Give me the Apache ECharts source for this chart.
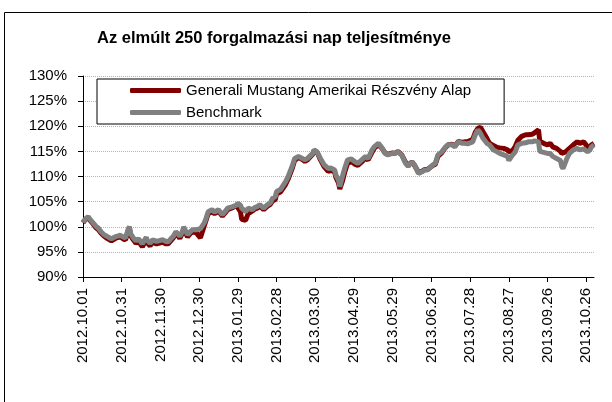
<!DOCTYPE html>
<html>
<head>
<meta charset="utf-8">
<script src="https://cdn.jsdelivr.net/npm/echarts@6/dist/echarts.min.js"></script>
<style>
  html, body { margin: 0; padding: 0; background: #fff; }
  #chart { width: 612px; height: 402px; }
</style>
</head>
<body>
<div id="chart"></div>
<script>
var titleText = 'Az elmúlt 250 forgalmazási nap teljesítménye';
var seriesNames = ['Generali Mustang Amerikai Részvény Alap', 'Benchmark'];

// tick labels, one every 30 calendar days from 2012.10.01
var tickLabels = ['2012.10.01', '2012.10.31', '2012.11.30', '2012.12.30', '2013.01.29', '2013.02.28',
  '2013.03.30', '2013.04.29', '2013.05.29', '2013.06.28', '2013.07.28', '2013.08.27',
  '2013.09.26', '2013.10.26'];
var tickStep = 30;
var lastDay = 396;

// days since 2012.10.01
var days = [0,2,4,5,8,10,12,14,16,18,19,22,23,26,27,29,31,33,34,35,36,37,39,41,43,44,46,49,50,52,
  54,57,58,60,62,64,66,68,70,72,74,75,77,78,81,83,85,88,89,91,92,94,95,97,100,102,105,108,110,112,
  116,119,120,122,123,126,128,131,133,135,137,140,143,145,147,149,150,153,154,157,159,162,164,167,170,172,174,178,179,181,
  182,184,187,190,192,195,196,198,199,201,203,205,208,211,213,216,219,221,224,226,229,232,234,236,240,242,244,247,250,252,
  255,257,260,263,265,267,271,273,275,278,281,283,286,288,291,294,296,298,302,304,306,308,310,313,315,318,321,323,326,329,
  330,333,335,337,340,343,345,348,350,353,354,357,360,362,364,367,370,371,372,374,375,377,380,383,385,388,389,391,393,394,396];

var fund = [100.8,101.5,101.9,101.4,100.5,99.8,99.4,98.7,98.2,97.8,97.5,97.2,97.0,97.8,97.9,98.0,97.6,97.4,97.7,99.2,
  99.6,98.2,97.4,96.7,97.1,97.4,96.0,97.5,96.7,96.2,96.9,96.6,96.5,96.8,96.9,96.6,96.6,97.2,97.8,98.6,
  98.1,97.7,98.7,99.6,98.0,98.6,99.0,98.8,98.4,97.8,98.0,100.2,101.0,102.6,103.0,102.6,103.1,102.1,102.7,103.4,
  103.8,104.2,104.5,103.0,101.5,101.3,102.6,103.1,103.5,103.7,104.1,103.4,104.1,104.4,105.2,105.4,106.5,106.9,107.0,108.4,
  109.5,111.5,113.2,113.8,113.4,113.0,113.3,114.4,115.1,114.9,114.5,113.3,111.9,111.0,111.2,110.9,109.8,108.7,107.5,109.0,
  111.0,112.6,113.0,112.4,112.2,112.9,113.7,113.3,114.8,115.7,116.3,115.5,114.7,114.4,114.7,114.6,115.0,114.3,112.8,112.2,
  112.9,112.2,110.8,111.1,111.4,111.4,112.2,112.4,114.0,114.7,115.8,116.3,116.4,116.0,117.0,116.8,116.9,116.9,117.4,118.8,
  119.6,119.8,118.9,117.6,116.6,116.2,115.8,115.7,115.6,115.3,114.9,115.2,116.0,117.2,118.0,118.3,118.3,118.4,118.7,119.3,
  117.0,116.6,116.3,116.6,115.9,115.6,115.0,114.6,114.6,114.9,115.2,115.6,116.3,116.9,116.6,116.9,116.6,115.9,115.9,116.3,116.6];

var bench = [100.9,101.6,102.0,101.6,100.7,100.1,99.7,99.0,98.5,98.2,97.9,97.6,97.4,98.1,98.2,98.3,98.0,97.8,98.1,99.5,
  100.0,98.6,97.8,97.2,97.6,97.8,96.6,97.9,97.2,96.7,97.4,97.1,97.0,97.3,97.4,97.1,97.0,97.6,98.1,99.0,
  98.5,98.1,99.0,100.0,98.4,99.0,99.4,99.4,99.4,99.6,99.7,100.8,101.4,103.0,103.4,102.9,103.4,102.4,103.0,103.7,
  104.0,104.3,104.7,104.3,103.7,103.0,103.7,103.4,103.8,104.0,104.4,103.7,104.4,104.7,105.7,106.0,107.0,107.4,107.4,109.0,
  110.0,112.0,113.6,114.0,113.6,113.3,113.6,114.6,115.3,115.0,114.6,113.6,112.3,111.6,111.7,111.3,110.3,109.3,108.0,110.0,
  111.8,113.3,113.5,112.9,112.6,113.3,114.0,113.6,115.3,116.0,116.6,115.6,114.6,114.3,114.6,114.6,114.9,114.3,112.6,112.0,
  112.9,112.3,110.6,111.0,111.3,111.3,112.3,112.6,114.3,114.9,115.9,116.3,116.3,115.9,116.9,116.6,116.6,116.5,116.9,118.3,
  119.3,118.6,117.6,116.6,116.3,115.3,114.9,114.6,114.3,114.0,113.2,114.3,114.9,116.3,116.6,116.7,116.9,116.9,117.1,116.9,
  115.0,114.8,114.6,114.6,114.0,113.6,113.2,112.0,111.6,112.9,113.6,114.6,115.3,115.6,115.3,115.5,115.6,114.9,115.3,115.9,116.3];

var yTicks = [90, 95, 100, 105, 110, 115, 120, 125, 130];

var font = 'Liberation Sans, Arial, Helvetica, sans-serif';
var tickDays = tickLabels.map(function (d, i) { return i * tickStep; });
function pairs(vals) { return days.map(function (d, i) { return [d, vals[i]]; }); }

var myChart = echarts.init(document.getElementById('chart'), null, { renderer: 'canvas' });
var option = {
  animation: false,
  backgroundColor: '#ffffff',
  title: {
    text: titleText,
    left: 97,
    top: 30,
    padding: 0,
    textStyle: { fontFamily: font, fontSize: 16.5, fontWeight: 'bold', color: '#000' }
  },
  graphic: [{
    type: 'rect',
    shape: { x: 4.5, y: 12.5, width: 700, height: 500 },
    style: { fill: null, stroke: '#000', lineWidth: 1 },
    silent: true,
    z: -1
  }],
  legend: {
    orient: 'vertical',
    left: 97,
    top: 79,
    padding: [4, 33, 4, 33],
    itemGap: 7,
    itemWidth: 51,
    itemHeight: 5,
    borderColor: '#000',
    borderWidth: 1,
    backgroundColor: '#fff',
    textStyle: { fontFamily: font, fontSize: 15, color: '#000' },
    data: [
      { name: seriesNames[0], icon: 'roundRect' },
      { name: seriesNames[1], icon: 'roundRect' }
    ]
  },
  grid: { left: 83, right: 18, top: 76, bottom: 125 },
  xAxis: {
    type: 'value',
    min: 0,
    max: lastDay,
    interval: tickStep,
    axisLine: { show: true, lineStyle: { color: '#000', width: 1 } },
    axisTick: { show: true, length: 5, customValues: tickDays, lineStyle: { color: '#000' } },
    splitLine: { show: false },
    axisLabel: {
      rotate: 90,
      margin: 11,
      customValues: tickDays,
      fontFamily: font,
      fontSize: 15,
      color: '#000',
      formatter: function (v) { return tickLabels[Math.round(v / tickStep)] || ''; }
    }
  },
  yAxis: {
    type: 'value',
    min: yTicks[0],
    max: yTicks[yTicks.length - 1],
    interval: 5,
    axisLine: { show: true, lineStyle: { color: '#000', width: 1 } },
    axisTick: { show: true, length: 5, lineStyle: { color: '#000' } },
    splitLine: { show: true, lineStyle: { color: '#b4b4b4', type: 'dotted', width: 1 } },
    axisLabel: {
      margin: 16,
      fontFamily: font,
      fontSize: 15,
      color: '#000',
      formatter: '{value}%'
    }
  },
  series: [
    {
      name: seriesNames[0],
      type: 'line',
      data: pairs(fund),
      showSymbol: false,
      color: '#800000',
      lineStyle: { color: '#800000', width: 5 }
    },
    {
      name: seriesNames[1],
      type: 'line',
      data: pairs(bench),
      showSymbol: false,
      color: '#808080',
      lineStyle: { color: '#808080', width: 5 }
    }
  ]
};
myChart.setOption(option);
</script>
</body>
</html>
